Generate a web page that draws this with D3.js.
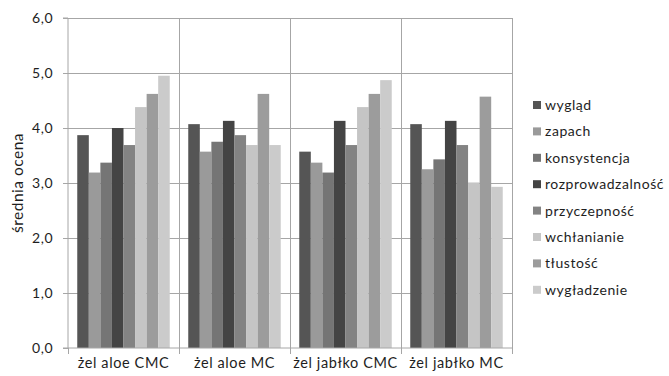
<!DOCTYPE html>
<html><head><meta charset="utf-8">
<script src="https://cdn.jsdelivr.net/npm/d3@7"></script>
<style>body{margin:0;background:#fff;} svg{display:block;font-family:Lato, "Open Sans", sans-serif;}</style>
</head><body>
<svg id="c" width="669" height="376"></svg>
<script>
const categories = ["żel aloe CMC", "żel aloe MC", "żel jabłko CMC", "żel jabłko MC"];
const seriesNames = ["wygląd","zapach","konsystencja","rozprowadzalność","przyczepność","wchłanianie","tłustość","wygładzenie"];
const wyglad = [3.87, 4.07, 3.57, 4.07];
const zapach = [3.19, 3.57, 3.37, 3.25];
const konsystencja = [3.37, 3.75, 3.19, 3.43];
const rozprowadzalnosc = [4.0, 4.13, 4.13, 4.13];
const przyczepnosc = [3.69, 3.87, 3.69, 3.69];
const wchlanianie = [4.38, 3.69, 4.38, 3.01];
const tlustosc = [4.62, 4.62, 4.62, 4.57];
const wygladzenie = [4.95, 3.69, 4.87, 2.93];
const seriesValues = [wyglad, zapach, konsystencja, rozprowadzalnosc, przyczepnosc, wchlanianie, tlustosc, wygladzenie];
const yTicks = [0,1,2,3,4,5,6];
const colors = ["#555555","#9a9a9a","#757575","#444444","#838383","#c5c5c5","#9c9c9c","#cbcbcb"];

const svg = d3.select("#c");
const L = 68, R = 512, T = 18, B = 348;
const x0 = d3.scaleBand().domain(categories).range([L, R]).paddingInner(0).paddingOuter(0);
const x1 = d3.scaleBand().domain(seriesNames).range([0, x0.bandwidth()]).paddingOuter(0.8).paddingInner(0);
const y = d3.scaleLinear().domain([0, 6]).range([B, T]);
const gridColor = "#a6a6a6";
const txt = "#1e1e1e";

// horizontal gridlines
svg.append("g").selectAll("line").data(yTicks.slice(1)).join("line")
  .attr("x1", L).attr("x2", R).attr("y1", d => y(d)).attr("y2", d => y(d))
  .attr("stroke", gridColor).attr("stroke-width", 1).attr("shape-rendering","crispEdges");
// vertical gridlines (category dividers)
svg.append("g").selectAll("line").data(categories.slice(1).concat(["__end"])).join("line")
  .attr("x1", (d,i) => i < 3 ? x0(d) : R).attr("x2", (d,i) => i < 3 ? x0(d) : R)
  .attr("y1", T).attr("y2", B)
  .attr("stroke", gridColor).attr("stroke-width", 1).attr("shape-rendering","crispEdges");

// bars
const groups = svg.append("g").selectAll("g").data(categories).join("g")
  .attr("transform", d => `translate(${x0(d)},0)`);
groups.selectAll("rect").data((c, ci) => seriesNames.map((s, si) => ({s, si, v: seriesValues[si][ci]}))).join("rect")
  .attr("x", d => x1(d.s)).attr("width", x1.bandwidth())
  .attr("y", d => y(d.v)).attr("height", d => B - y(d.v))
  .attr("fill", d => colors[d.si]);

// y axis
const yAxis = d3.axisLeft(y).tickValues(yTicks).tickFormat(d => d3.format(".1f")(d).replace(".", ",")).tickSize(5).tickPadding(10);
const gy = svg.append("g").attr("transform", `translate(${L},0)`).call(yAxis);
gy.select(".domain").attr("stroke", gridColor).attr("d", `M-5,${T}H0V${B}H-5`);
gy.selectAll(".tick line").attr("stroke", gridColor);
gy.selectAll("text").attr("font-size", 14).attr("fill", txt).attr("font-family", "Lato, sans-serif").attr("letter-spacing", "0.5px");

// x axis
const xAxis = d3.axisBottom(x0).tickSize(0).tickPadding(10);
const gx = svg.append("g").attr("transform", `translate(0,${B})`).call(xAxis);
gx.select(".domain").attr("stroke", gridColor).attr("d", `M${L},0H${R}`);
gx.selectAll("text").attr("font-size", 14.5).attr("fill", txt).attr("font-family", "Lato, sans-serif").attr("letter-spacing", "0.6px");
svg.append("g").selectAll("line").data(d3.range(categories.length + 1)).join("line")
  .attr("x1", i => i < categories.length ? x0(categories[i]) : R)
  .attr("x2", i => i < categories.length ? x0(categories[i]) : R)
  .attr("y1", B).attr("y2", B + 6).attr("stroke", gridColor).attr("shape-rendering","crispEdges");

// y axis title
svg.append("text").attr("transform", `translate(23,${(T+B)/2}) rotate(-90)`)
  .attr("text-anchor", "middle").attr("font-size", 15.5).attr("fill", txt).attr("letter-spacing", "0.5px").text("średnia ocena");

// legend
const lg = svg.append("g").selectAll("g").data(seriesNames).join("g")
  .attr("transform", (d, i) => `translate(533,${105 + i * 26.4})`);
lg.append("rect").attr("x", 0).attr("y", -4).attr("width", 8).attr("height", 8).attr("fill", (d, i) => colors[i]);
lg.append("text").attr("x", 12).attr("y", 0).attr("dy", "0.35em").attr("font-size", 14).attr("fill", txt).attr("letter-spacing", "0.55px").text(d => d);
</script>
</body></html>
